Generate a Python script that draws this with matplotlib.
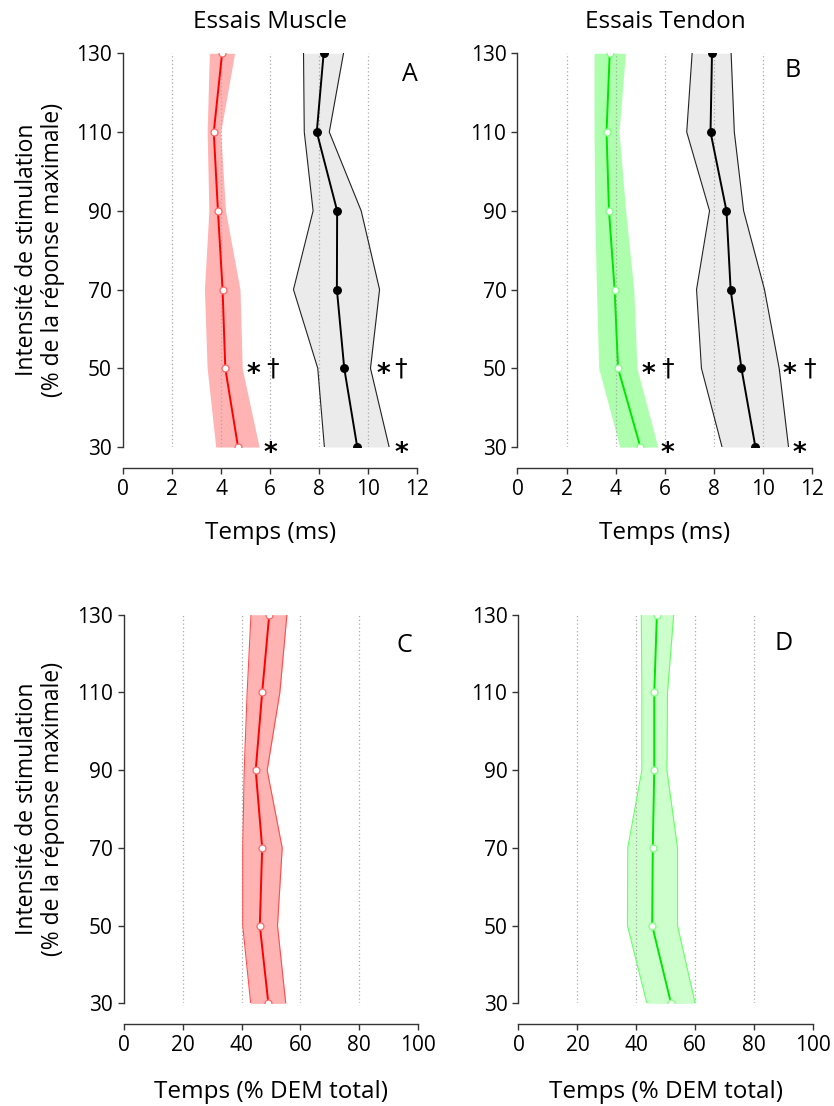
import matplotlib
matplotlib.use("Agg")
import matplotlib.pyplot as plt

plt.rcParams['font.family'] = ['Open Sans', 'DejaVu Sans']

intensities = [30, 50, 70, 90, 110, 130]

# panel A - muscle trials (ms)
muscle_early_mean = [4.69, 4.17, 4.06, 3.87, 3.70, 4.04]
muscle_early_lo = [3.78, 3.43, 3.32, 3.50, 3.43, 3.52]
muscle_early_hi = [5.55, 4.86, 4.77, 4.18, 3.98, 4.55]
muscle_late_mean = [9.55, 9.02, 8.72, 8.73, 7.90, 8.18]
muscle_late_lo = [8.21, 7.94, 6.95, 7.75, 7.39, 7.36]
muscle_late_hi = [10.85, 10.09, 10.46, 9.71, 8.41, 8.99]

# panel B - tendon trials (ms)
tendon_early_mean = [5.01, 4.10, 3.96, 3.73, 3.63, 3.76]
tendon_early_lo = [4.17, 3.31, 3.22, 3.15, 3.12, 3.12]
tendon_early_hi = [5.72, 4.87, 4.74, 4.41, 4.14, 4.40]
tendon_late_mean = [9.70, 9.13, 8.69, 8.52, 7.87, 7.93]
tendon_late_lo = [8.34, 7.50, 7.30, 7.83, 6.90, 7.12]
tendon_late_hi = [11.05, 10.67, 10.07, 9.22, 8.84, 8.71]

# panel C - muscle (% DEM total)
muscle_pct_mean = [49.1, 46.2, 47.0, 44.8, 47.0, 49.4]
muscle_pct_lo = [43.1, 40.4, 40.4, 40.9, 41.9, 43.2]
muscle_pct_hi = [55.0, 52.2, 53.8, 48.7, 53.0, 55.4]

# panel D - tendon (% DEM total)
tendon_pct_mean = [51.8, 45.4, 45.6, 46.1, 46.1, 47.0]
tendon_pct_lo = [43.6, 37.0, 37.1, 41.9, 41.9, 41.7]
tendon_pct_hi = [60.0, 54.0, 54.0, 50.4, 50.6, 52.7]

# significance marks (x, intensity, text)
marks_A = [(5.3, 50, '*'), (6.1, 50, '†'), (6.0, 30, '*'),
           (10.6, 50, '*'), (11.3, 50, '†'), (11.35, 30, '*')]
marks_B = [(5.35, 50, '*'), (6.13, 50, '†'), (6.1, 30, '*'),
           (11.1, 50, '*'), (11.9, 50, '†'), (11.5, 30, '*')]

RED = '#ff0000'
GREEN = '#00e600'

fig = plt.figure(figsize=(8.34, 11.06), dpi=100)
axA = fig.add_axes([0.1475, 0.5958, 0.3529, 0.356])
axB = fig.add_axes([0.6205, 0.5958, 0.3529, 0.356])
axC = fig.add_axes([0.1484, 0.0928, 0.3531, 0.3514])
axD = fig.add_axes([0.6217, 0.0928, 0.3531, 0.3514])


def style(ax, xmax, grid, xticks):
    ax.set_xlim(0, xmax)
    ax.set_ylim(30, 130)
    for s in ['top', 'right']:
        ax.spines[s].set_visible(False)
    ax.spines['bottom'].set_position(('outward', 15))
    for s in ['left', 'bottom']:
        ax.spines[s].set_color('#333333')
        ax.spines[s].set_linewidth(1.0)
    ax.set_xticks(xticks)
    ax.set_yticks(intensities)
    ax.tick_params(direction='out', length=4, width=1, color='#333333',
                   labelsize=15, pad=4)
    for g in grid:
        ax.axvline(g, color='#aaaaaa', lw=0.9, ls=(0, (1, 2)), zorder=1.5)


def band(ax, mean, lo, hi, fill, edge, line, mfc, mec, ms, ecol_lw=0.0):
    ax.fill_betweenx(intensities, lo, hi, color=fill, lw=0, zorder=1)
    if ecol_lw > 0:
        ax.plot(lo, intensities, color=edge, lw=ecol_lw, zorder=1.6)
        ax.plot(hi, intensities, color=edge, lw=ecol_lw, zorder=1.6)
    ax.plot(mean, intensities, color=line, lw=1.4, marker='o', ms=ms,
            mfc=mfc, mec=mec, mew=0.9, zorder=3)


style(axA, 12, [2, 4, 6, 8, 10], range(0, 13, 2))
band(axA, muscle_early_mean, muscle_early_lo, muscle_early_hi,
     '#ffb3b3', RED, RED, 'white', '#ff6666', 5)
band(axA, muscle_late_mean, muscle_late_lo, muscle_late_hi,
     '#ebebeb', '#222222', 'black', 'black', 'black', 5.5, 0.8)

style(axB, 12, [2, 4, 6, 8, 10], range(0, 13, 2))
band(axB, tendon_early_mean, tendon_early_lo, tendon_early_hi,
     '#adffad', GREEN, GREEN, 'white', '#80ff80', 5)
band(axB, tendon_late_mean, tendon_late_lo, tendon_late_hi,
     '#ebebeb', '#222222', 'black', 'black', 'black', 5.5, 0.8)

style(axC, 100, [20, 40, 60, 80], range(0, 101, 20))
band(axC, muscle_pct_mean, muscle_pct_lo, muscle_pct_hi,
     '#ffb3b3', '#ff4d4d', RED, 'white', '#ff6666', 5, 0.8)

style(axD, 100, [20, 40, 60, 80], range(0, 101, 20))
band(axD, tendon_pct_mean, tendon_pct_lo, tendon_pct_hi,
     '#ccffcc', '#66ff66', GREEN, 'white', '#80ff80', 5, 0.8)

for ax, marks in [(axA, marks_A), (axB, marks_B)]:
    for x, y, t in marks:
        if t == '*':
            ax.text(x, y - 1.8, t, ha='center', va='center', fontsize=19,
                    fontweight='bold', clip_on=False, family=['DejaVu Sans'])
        else:
            ax.text(x, y, t, ha='center', va='center', fontsize=18,
                    clip_on=False, family=['DejaVu Sans'])

for ax, letter, px, py in [(axA, 'A', 0.976, 0.947), (axB, 'B', 0.934, 0.957),
                           (axC, 'C', 0.954, 0.922), (axD, 'D', 0.899, 0.927)]:
    ax.text(px, py, letter, transform=ax.transAxes, ha='center', va='center',
            fontsize=18)

for ax in [axA, axB]:
    ax.set_xlabel('Temps (ms)', fontsize=17.5, labelpad=15)
for ax in [axC, axD]:
    ax.set_xlabel('Temps (% DEM total)', fontsize=17.5, labelpad=17)

ylab = 'Intensité de stimulation\n(% de la réponse maximale)'
fig.text(40 / 834, 1 - 250 / 1106, ylab, rotation=90, ha='center', va='center',
         fontsize=16.5, multialignment='center', linespacing=1.15)
fig.text(40 / 834, 1 - 809 / 1106, ylab, rotation=90, ha='center', va='center',
         fontsize=16.5, multialignment='center', linespacing=1.15)

fig.text(270 / 834, 1 - 22 / 1106, 'Essais Muscle', ha='center', va='center', fontsize=17.5)
fig.text(665 / 834, 1 - 22 / 1106, 'Essais Tendon', ha='center', va='center', fontsize=17.5)

fig.savefig('out.png', dpi=100)
